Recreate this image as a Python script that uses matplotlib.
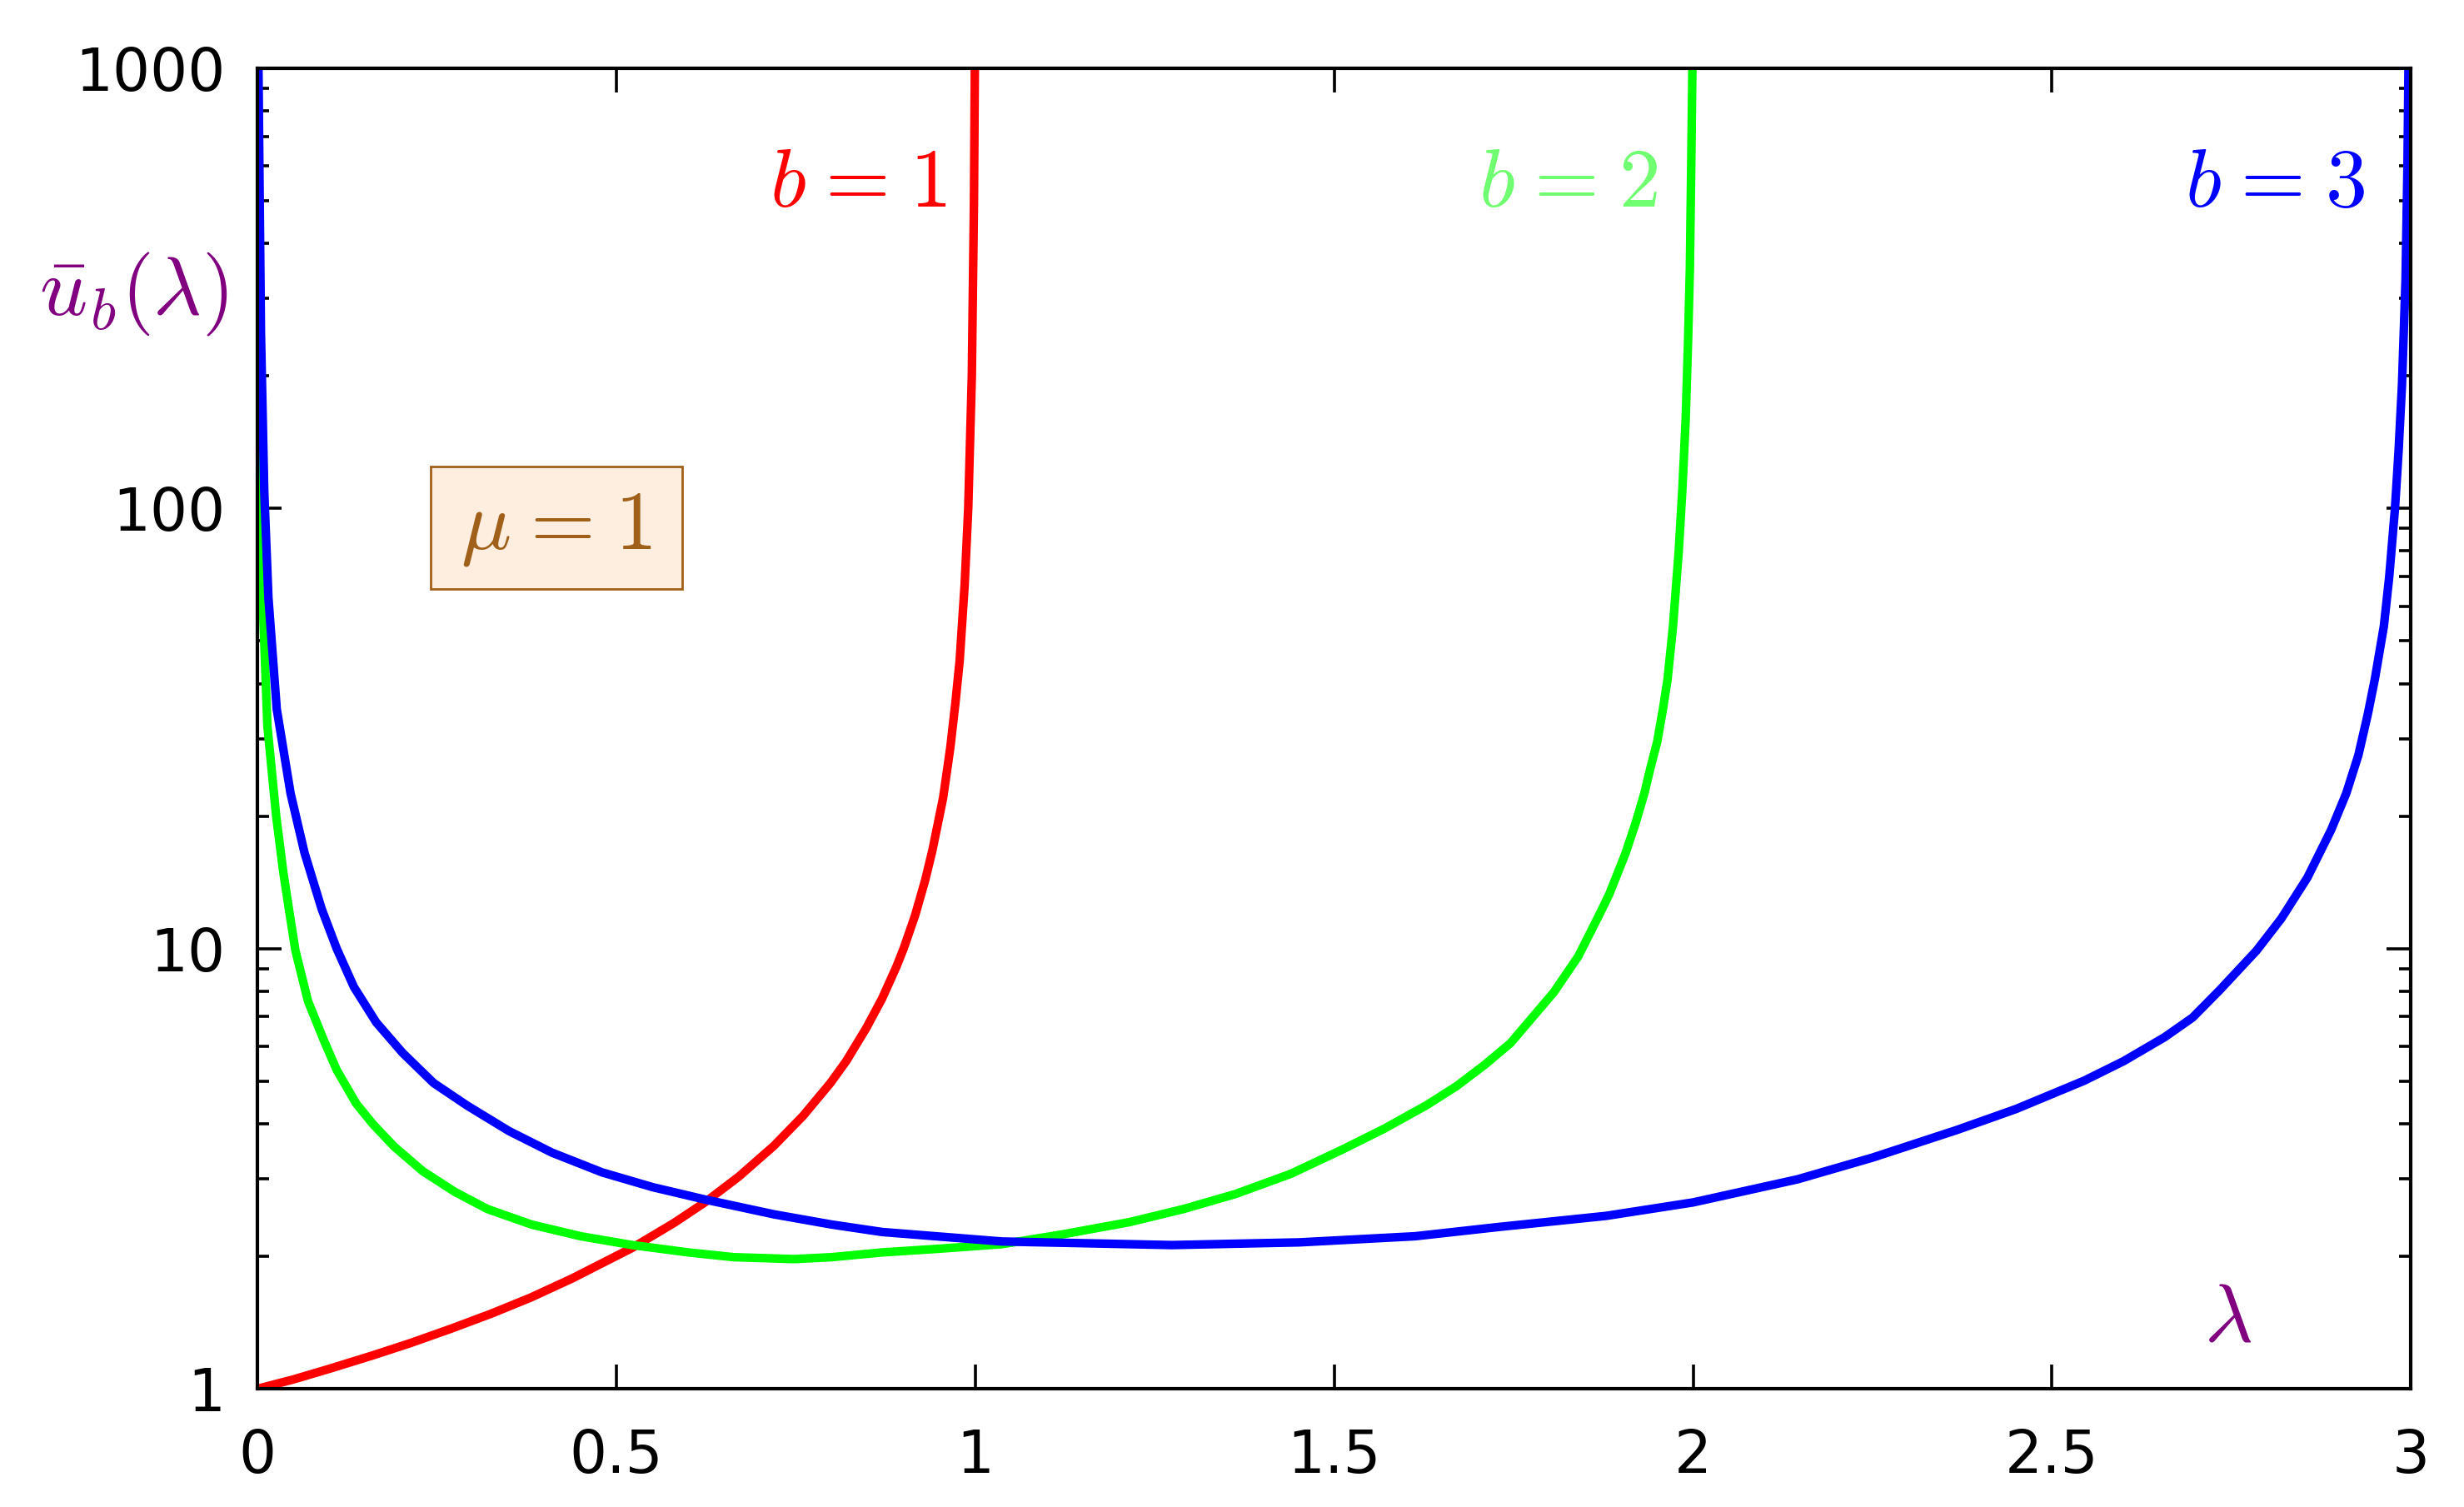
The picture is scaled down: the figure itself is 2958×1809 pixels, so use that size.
import matplotlib
matplotlib.use("Agg")
import matplotlib.pyplot as plt
from matplotlib.patches import Rectangle
from matplotlib.ticker import FixedLocator, LogLocator, NullFormatter

plt.rcParams["mathtext.fontset"] = "cm"
plt.rcParams["font.family"] = ["DejaVu Sans"]

# values
lam_b1 = [0.0, 0.05, 0.100, 0.16, 0.213, 0.27, 0.325, 0.38, 0.438, 0.522, 0.58,
          0.623, 0.67, 0.719, 0.76, 0.798, 0.82, 0.848, 0.870, 0.89, 0.90,
          0.916, 0.93, 0.94, 0.955, 0.965, 0.972, 0.978, 0.985, 0.990, 0.995,
          0.998, 0.9992]
u_b1 = [1.0, 1.05, 1.11, 1.19, 1.27, 1.37, 1.48, 1.61, 1.78, 2.09, 2.38,
        2.65, 3.03, 3.56, 4.17, 4.95, 5.55, 6.6, 7.7, 9.1, 10.0,
        11.9, 14.3, 16.7, 22.0, 28.6, 36.0, 45.0, 67.0, 100.0, 200.0,
        500.0, 1000.0]

lam_b2 = [0.0005, 0.0015, 0.0045, 0.0064, 0.0135, 0.0257, 0.0354, 0.0431, 0.0525,
          0.07, 0.0919, 0.11, 0.137, 0.16, 0.190, 0.23, 0.2747, 0.32, 0.3816,
          0.45, 0.522, 0.60, 0.663, 0.747, 0.800, 0.870, 0.95, 1.037, 1.12,
          1.2145, 1.29, 1.3627, 1.44, 1.5106, 1.57, 1.629, 1.6705, 1.71, 1.7457,
          1.806, 1.84, 1.870, 1.8833, 1.9055, 1.92, 1.932, 1.94, 1.950, 1.958,
          1.9645, 1.972, 1.980, 1.985, 1.9897, 1.993, 1.9955, 1.9975, 1.999]
u_b2 = [1000.0, 330.0, 100.0, 65.0, 32.0, 20.0, 15.0, 12.4, 9.9,
        7.6, 6.2, 5.3, 4.45, 4.0, 3.55, 3.12, 2.80, 2.56, 2.36,
        2.22, 2.12, 2.04, 1.99, 1.97, 1.99, 2.04, 2.08, 2.13, 2.24,
        2.39, 2.56, 2.77, 3.08, 3.49, 3.9, 4.41, 4.87, 5.45, 6.1,
        7.96, 9.6, 12.0, 13.3, 16.4, 19.3, 22.5, 25.5, 29.5, 35.0,
        41.0, 54.0, 80.0, 110.0, 160.0, 240.0, 350.0, 620.0, 1000.0]

lam_b3 = [0.001, 0.0045, 0.0091, 0.0149, 0.0265, 0.0458, 0.0652, 0.0891, 0.11,
          0.134, 0.165, 0.2016, 0.245, 0.2916, 0.35, 0.4097, 0.48, 0.5503, 0.6234,
          0.7192, 0.800, 0.870, 1.037, 1.2736, 1.451, 1.6125, 1.7286, 1.879, 2.0,
          2.1454, 2.25, 2.3674, 2.45, 2.545, 2.6, 2.657, 2.696, 2.7345, 2.785,
          2.8196, 2.856, 2.889, 2.91, 2.927, 2.94, 2.95, 2.9625, 2.97, 2.978,
          2.983, 2.9877, 2.9927, 2.9954, 2.9968]
u_b3 = [1000.0, 250.0, 109.0, 62.6, 35.0, 22.5, 16.5, 12.3, 10.0,
        8.18, 6.8, 5.80, 4.95, 4.40, 3.85, 3.44, 3.1, 2.87, 2.69,
        2.49, 2.36, 2.27, 2.16, 2.12, 2.15, 2.22, 2.33, 2.47, 2.65,
        2.99, 3.35, 3.87, 4.32, 5.01, 5.55, 6.29, 6.97, 8.07, 9.89,
        11.7, 14.5, 18.6, 22.5, 27.5, 34.0, 41.0, 54.0, 70.0, 100.0,
        135.0, 190.0, 330.0, 600.0, 1000.0]

x_ticks = [0, 0.5, 1, 1.5, 2, 2.5, 3]
x_ticklabels = ["0", "0.5", "1", "1.5", "2", "2.5", "3"]
y_ticks = [1, 10, 100, 1000]
y_ticklabels = ["1", "10", "100", "1000"]

fig = plt.figure(figsize=(14.79, 9.045), dpi=200)
ax = fig.add_axes([0.1046, 0.0785, 0.8738, 0.8762])

lw = 3.7
ax.plot(lam_b1, u_b1, color="#ff0000", lw=lw, solid_joinstyle="round")
ax.plot(lam_b2, u_b2, color="#00ff00", lw=lw, solid_joinstyle="round")
ax.plot(lam_b3, u_b3, color="#0000ff", lw=lw, solid_joinstyle="round")

ax.set_yscale("log")
ax.set_xlim(0, 3)
ax.set_ylim(1, 1000)

ax.xaxis.set_major_locator(FixedLocator(x_ticks))
ax.set_xticklabels(x_ticklabels)
ax.yaxis.set_major_locator(FixedLocator(y_ticks))
ax.set_yticklabels(y_ticklabels)
ax.yaxis.set_minor_locator(LogLocator(base=10, subs=range(2, 10)))
ax.yaxis.set_minor_formatter(NullFormatter())
ax.xaxis.set_minor_locator(FixedLocator([]))

ax.tick_params(which="both", direction="in", top=True, right=True,
               width=1.3, colors="black", labelsize=25.5)
ax.tick_params(which="major", length=10.5)
ax.tick_params(which="minor", length=5.0)
ax.tick_params(axis="x", pad=17)
ax.tick_params(axis="y", pad=14)

for sp in ax.spines.values():
    sp.set_linewidth(1.5)
    sp.set_zorder(5)

# curve labels
fs = 36
sp_eq = r"\hspace{0.07}"
ax.text(0.9595, 546, r"$b" + sp_eq + "=" + sp_eq + "1$", color="#ff0000",
        fontsize=fs, ha="right", va="center")
ax.text(1.951, 546, r"$b" + sp_eq + "=" + sp_eq + "2$", color="#70ff70",
        fontsize=fs, ha="right", va="center")
ax.text(2.936, 546, r"$b" + sp_eq + "=" + sp_eq + "3$", color="#0000ff",
        fontsize=fs, ha="right", va="center")

ax.text(-0.014, 0.829, r"$\bar{u}_b(\lambda)$", color="#800080", fontsize=fs,
        ha="right", va="center", transform=ax.transAxes)
ax.text(0.915, 0.053, r"$\lambda$", color="#800080", fontsize=fs,
        ha="center", va="center", transform=ax.transAxes)

# mu box
ax.add_patch(Rectangle((0.0803, 0.6057), 0.1168, 0.0927, transform=ax.transAxes,
                       facecolor="#fdeee0", edgecolor="#a0601a", linewidth=1.0,
                       zorder=3))
ax.text(0.1388, 0.652, r"$\mu" + sp_eq + "=" + sp_eq + "1$", color="#a0601a",
        fontsize=fs, ha="center", va="center", transform=ax.transAxes, zorder=4)

fig.savefig("out.png", dpi=200)
